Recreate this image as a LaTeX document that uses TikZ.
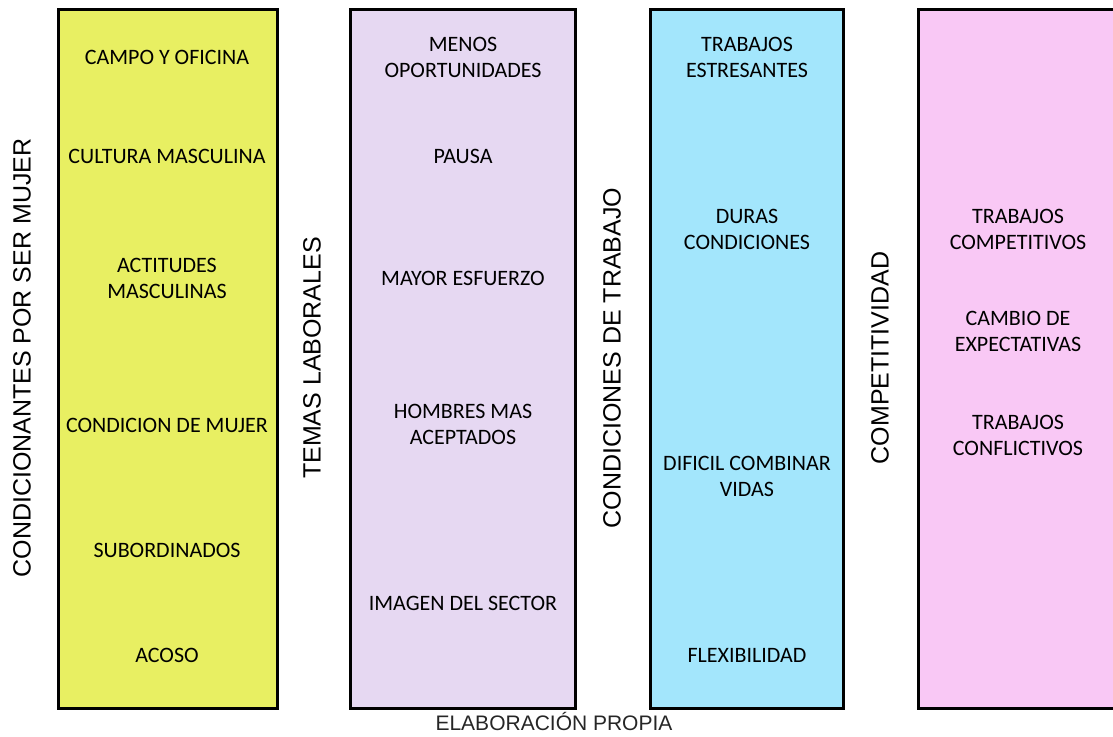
\documentclass[tikz,border=0pt]{standalone}
\usepackage{fontspec}
\setmainfont{Liberation Sans}
\newfontfamily\entryfont{Carlito}
\definecolor{colyellow}{HTML}{E8EF62}
\definecolor{collilac}{HTML}{E6D8F2}
\definecolor{colblue}{HTML}{A3E6FC}
\definecolor{colpink}{HTML}{F9C8F5}

\begin{document}
\begin{tikzpicture}[x=1pt,y=-1pt,
  column/.style={draw,line width=3pt,minimum height=699pt,inner sep=0pt},
  heading/.style={rotate=90,font=\fontsize{25}{30}\selectfont},
  entry/.style={align=center,font=\entryfont\fontsize{22}{26}\selectfont}]
  \clip (0,0) rectangle (1113,736);

  %columns
  \node[column,fill=colyellow,minimum width=219pt] (mujer) at (167.5,358.5) {};
  \node[column,fill=collilac,minimum width=225pt] (temas) at (462.5,358.5) {};
  \node[column,fill=colblue,minimum width=193pt] (condiciones) at (746.5,358.5) {};
  \node[column,fill=colpink,minimum width=220pt] (compet) at (1028,358.5) {};

  %headings
  \node[heading] (h-mujer) at (22,358) {CONDICIONANTES POR SER MUJER};
  \node[heading] (h-temas) at (312,358) {TEMAS LABORALES};
  \node[heading] (h-condiciones) at (612,358) {CONDICIONES DE TRABAJO};
  \node[heading] (h-compet) at (880,358) {COMPETITIVIDAD};

  %first column
  \node[entry] (m1) at (167,57) {CAMPO Y OFICINA};
  \node[entry] (m2) at (167,156) {CULTURA MASCULINA};
  \node[entry] (m3) at (167,278) {ACTITUDES\\MASCULINAS};
  \node[entry] (m4) at (167,425) {CONDICION DE MUJER};
  \node[entry] (m5) at (167,550) {SUBORDINADOS};
  \node[entry] (m6) at (167,655) {ACOSO};

  %second column
  \node[entry] (t1) at (463,57) {MENOS\\OPORTUNIDADES};
  \node[entry] (t2) at (463,156) {PAUSA};
  \node[entry] (t3) at (463,278) {MAYOR ESFUERZO};
  \node[entry] (t4) at (463,424) {HOMBRES MAS\\ACEPTADOS};
  \node[entry] (t5) at (463,603) {IMAGEN DEL SECTOR};

  %third column
  \node[entry] (c1) at (747,57) {TRABAJOS\\ESTRESANTES};
  \node[entry] (c2) at (747,229) {DURAS\\CONDICIONES};
  \node[entry] (c3) at (747,476) {DIFICIL COMBINAR\\VIDAS};
  \node[entry] (c4) at (747,655) {FLEXIBILIDAD};

  %fourth column
  \node[entry] (p1) at (1018,229) {TRABAJOS\\COMPETITIVOS};
  \node[entry] (p2) at (1018,331) {CAMBIO DE\\EXPECTATIVAS};
  \node[entry] (p3) at (1018,435) {TRABAJOS\\CONFLICTIVOS};

  %source
  \node[font=\fontsize{21}{24}\selectfont,text=black!85] (fuente) at (554,721) {ELABORACIÓN PROPIA};
\end{tikzpicture}
\end{document}
